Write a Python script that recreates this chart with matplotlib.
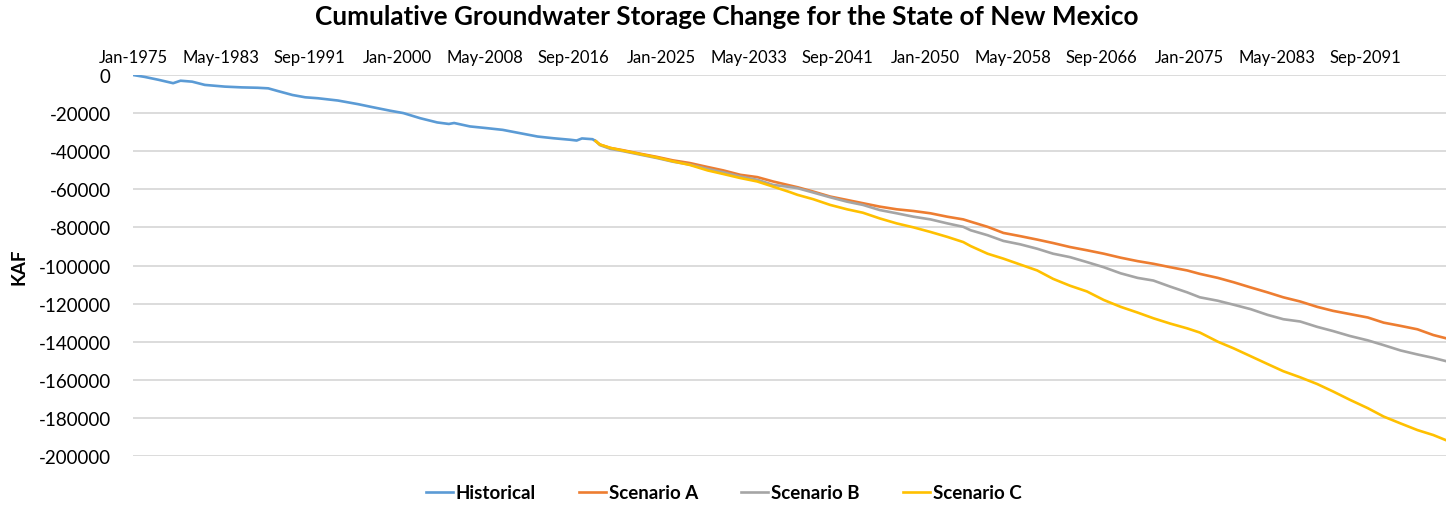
import matplotlib.pyplot as plt

plt.rcParams['font.family'] = ['Lato', 'DejaVu Sans']
plt.rcParams['axes.unicode_minus'] = False

# historical record (decimal year, KAF)
hist_years = [1975.0, 1976.1, 1977.4, 1978.8, 1979.5, 1980.6, 1981.8, 1983.7, 1985.3,
              1986.8, 1987.8, 1988.7, 1990.1, 1991.3, 1992.5, 1994.4, 1996.3, 1997.6,
              1999.3, 2000.6, 2002.2, 2003.8, 2004.9, 2005.4, 2006.9, 2008.5, 2010.0,
              2011.6, 2013.3, 2014.8, 2016.4, 2017.0, 2017.5, 2018.5, 2018.8]
hist_kaf = [0, -1000, -2500, -4300, -3000, -3500, -5200, -6100, -6500,
            -6700, -7000, -8400, -10500, -11700, -12200, -13400, -15300, -16800,
            -18700, -20000, -22700, -24900, -25700, -25200, -27000, -27900, -28800,
            -30500, -32300, -33200, -34000, -34400, -33300, -33700, -34700]

# projections
proj_years = [2018.8, 2019.2, 2020.2, 2021.4, 2023.0, 2024.6, 2026.1, 2027.7, 2029.4,
              2030.9, 2032.5, 2034.1, 2035.6, 2037.2, 2037.9, 2039.4, 2041.0, 2042.6,
              2044.1, 2045.7, 2047.3, 2048.9, 2050.5, 2052.1, 2053.6, 2054.3, 2055.9,
              2057.4, 2059.0, 2060.6, 2062.1, 2063.7, 2065.3, 2066.9, 2068.5, 2070.1,
              2071.6, 2073.2, 2074.8, 2076.0, 2077.7, 2079.2, 2080.8, 2082.4, 2083.9,
              2085.5, 2087.1, 2088.6, 2090.2, 2091.9, 2093.4, 2095.0, 2096.6, 2098.1,
              2099.3]
scen_a = [-34700, -36500, -38300, -39500, -41300, -43000, -44800, -46200, -48300,
          -50100, -52400, -53600, -55900, -58000, -58900, -61200, -63800, -65600,
          -67300, -69100, -70500, -71400, -72600, -74400, -75800, -77000, -79700,
          -82900, -84600, -86400, -88200, -90300, -92000, -93800, -95900, -97700,
          -99100, -100900, -102600, -104400, -106500, -108800, -111500, -114100, -116700,
          -118900, -121700, -123800, -125500, -127300, -130000, -131700, -133500, -136500,
          -138200]
scen_b = [-34700, -36800, -38800, -40000, -41800, -43600, -45500, -47000, -49300,
          -51100, -53300, -55000, -57700, -58800, -59400, -61700, -64200, -66500,
          -68200, -70900, -72600, -74400, -75800, -77900, -79700, -81500, -84100,
          -87100, -88900, -91200, -93800, -95600, -98200, -100900, -104100, -106500,
          -107900, -111100, -114100, -116700, -118500, -120600, -122900, -125900, -128200,
          -129400, -132200, -134400, -137000, -139300, -141800, -144600, -146700, -148500,
          -150200]
scen_c = [-34700, -36500, -38300, -39700, -41500, -43300, -45300, -47200, -50100,
          -52000, -54100, -55900, -58600, -61500, -62900, -65200, -68200, -70500,
          -72300, -75300, -77900, -80000, -82400, -85000, -87700, -89800, -93800,
          -96400, -99500, -102600, -107000, -110600, -113600, -118100, -121700, -124700,
          -127700, -130500, -133000, -135200, -140000, -143500, -147600, -151700, -155500,
          -158700, -162200, -166100, -170500, -174900, -179300, -182900, -186400, -189000,
          -191700]

tick_labels = ['Jan-1975', 'May-1983', 'Sep-1991', 'Jan-2000', 'May-2008', 'Sep-2016',
               'Jan-2025', 'May-2033', 'Sep-2041', 'Jan-2050', 'May-2058', 'Sep-2066',
               'Jan-2075', 'May-2083', 'Sep-2091']
tick_pos = [1975 + i * 100 / 12 for i in range(len(tick_labels))]

fig = plt.figure(figsize=(14.53, 5.06), dpi=100)
ax = fig.add_axes([133 / 1453, 1 - 457 / 506, (1446 - 133) / 1453, (457 - 76) / 506])

ax.plot(hist_years, hist_kaf, color='#5B9BD5', lw=1.9, label='Historical')
ax.plot(proj_years, scen_a, color='#ED7D31', lw=1.9, label='Scenario A')
ax.plot(proj_years, scen_b, color='#A5A5A5', lw=1.9, label='Scenario B')
ax.plot(proj_years, scen_c, color='#FFC000', lw=1.9, label='Scenario C')

ax.set_xlim(1975, 2099.3)
ax.set_ylim(-200000, 0)
ax.set_yticks(range(-200000, 1, 20000))
ax.tick_params(axis='y', length=0, pad=16, labelsize=13.5)
ax.xaxis.tick_top()
ax.set_xticks(tick_pos)
ax.set_xticklabels(tick_labels)
ax.tick_params(axis='x', length=0, pad=7, labelsize=12)
ax.grid(axis='y', color='#D9D9D9', lw=1.3)
ax.set_axisbelow(True)
for s in ax.spines.values():
    s.set_visible(False)

ax.set_ylabel('KAF', fontsize=13.5, fontweight='bold', labelpad=8)

fig.suptitle('Cumulative Groundwater Storage Change for the State of New Mexico',
             fontsize=18.8, fontweight='bold', y=0.99)

fig.legend(loc='center', bbox_to_anchor=(0.498, 1 - 494 / 506), ncol=4, frameon=False,
           handlelength=1.45, handletextpad=0.15, columnspacing=2.3,
           prop={'weight': 'bold', 'size': 13.5})

fig.savefig('out.png', dpi=100)
